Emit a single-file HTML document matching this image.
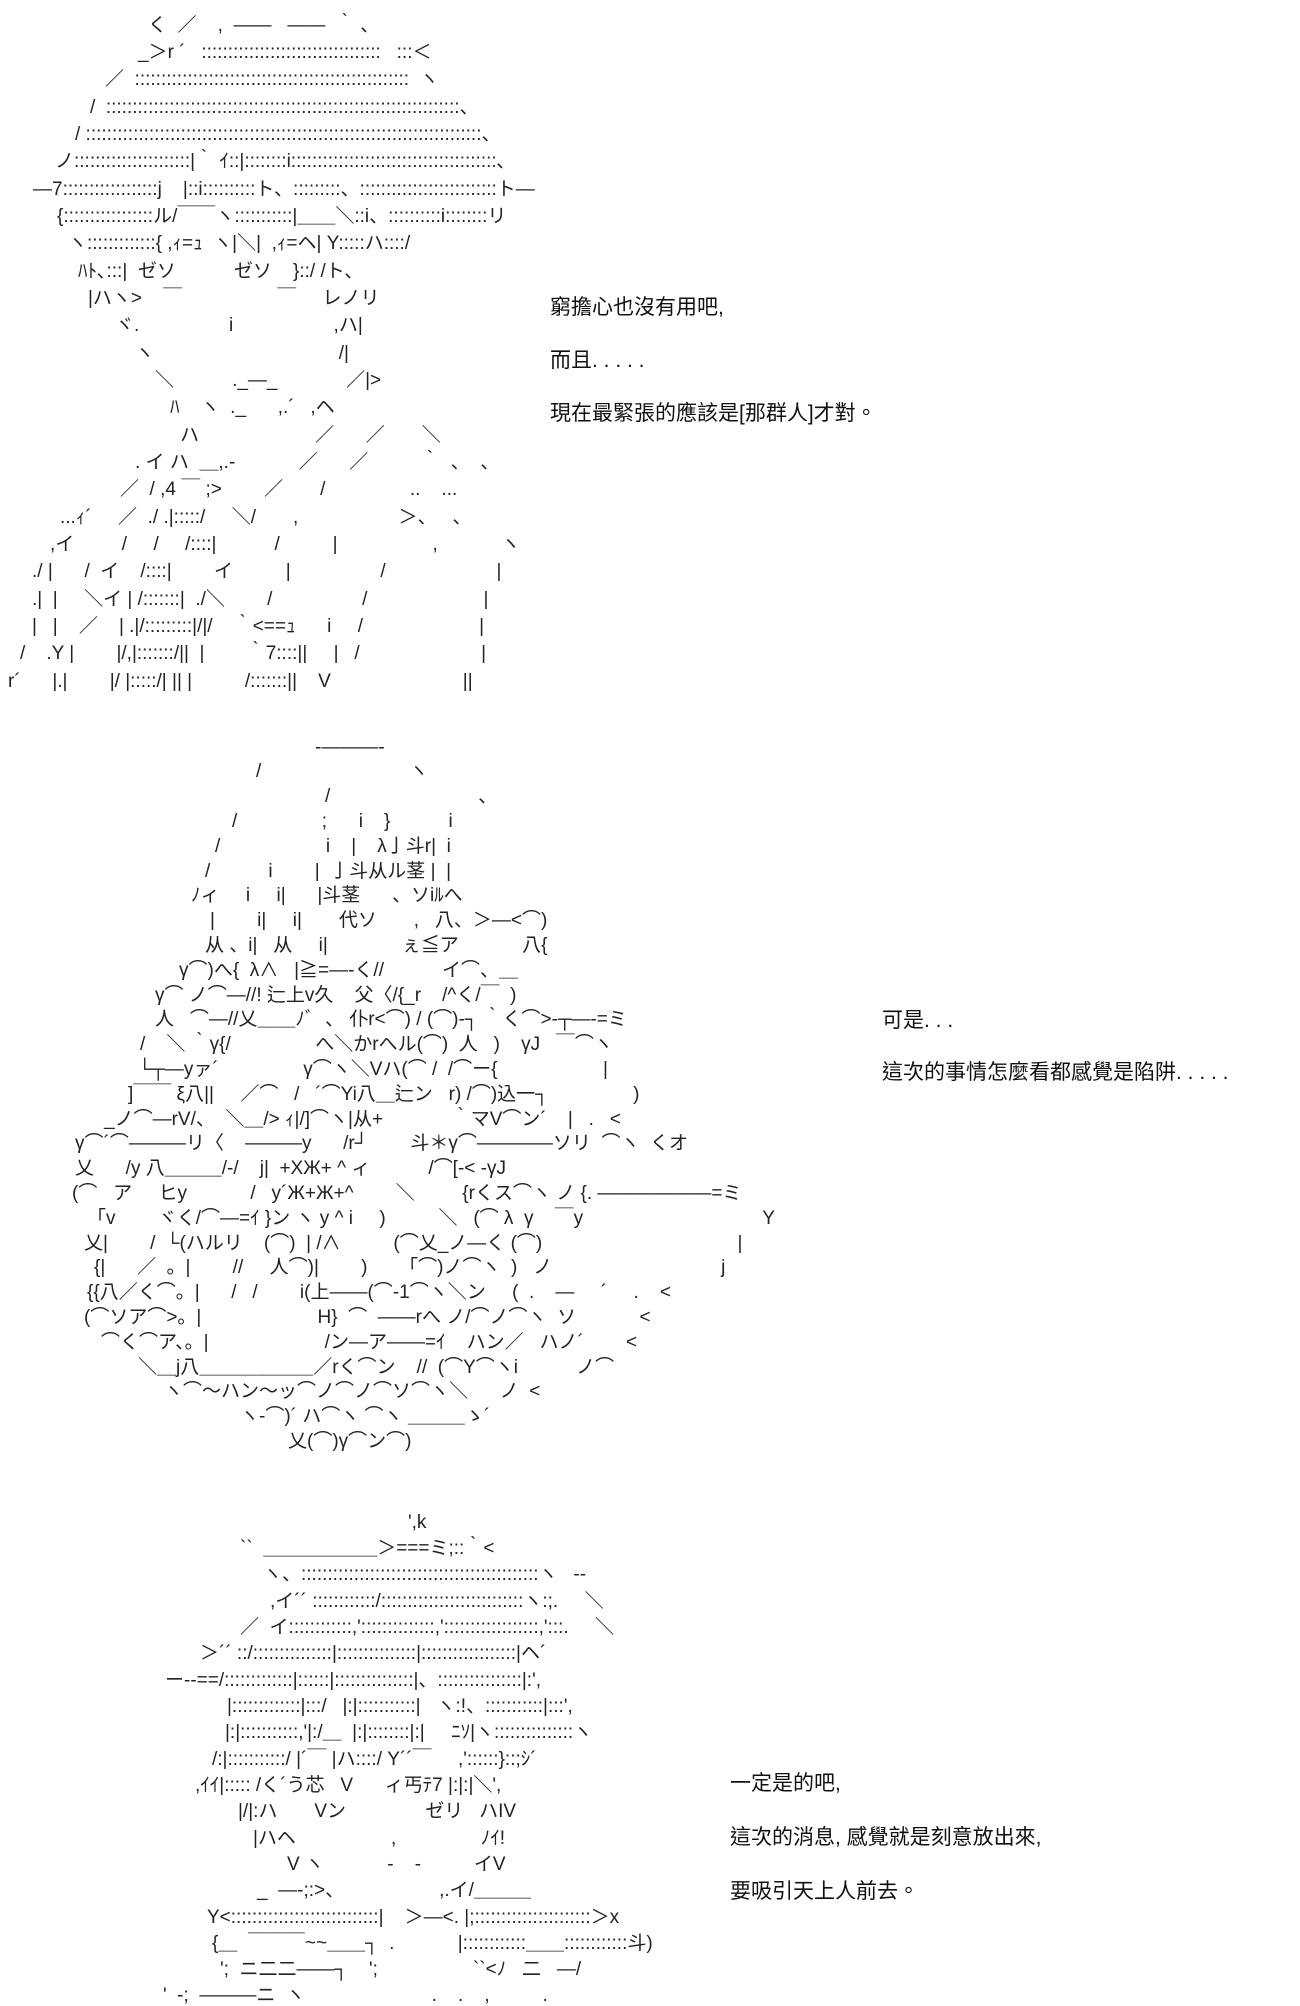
<!DOCTYPE html>
<html><head><meta charset="utf-8">
<style>
html,body{margin:0;padding:0;background:#fff;}
body{width:1300px;height:2000px;position:relative;overflow:hidden;}
.a{position:absolute;white-space:pre;font-family:"Liberation Sans","Noto Sans CJK JP",sans-serif;font-size:19px;line-height:20px;color:#222;}
.t{position:absolute;white-space:pre;font-family:"Liberation Sans","Noto Sans CJK TC",sans-serif;font-size:21px;line-height:24px;color:#111;}
</style></head><body>

<!-- Art 1 -->
<div class="a" style="left:148px;top:16px">く  ／    ,  ――   ――  ｀ 、</div>
<div class="a" style="left:138px;top:43px">_＞r ´   ::::::::::::::::::::::::::::::::::   :::＜</div>
<div class="a" style="left:105px;top:70px">／  ::::::::::::::::::::::::::::::::::::::::::::::::::::  ヽ</div>
<div class="a" style="left:90px;top:98px">/  :::::::::::::::::::::::::::::::::::::::::::::::::::::::::::::::::::、</div>
<div class="a" style="left:75px;top:125px">/ :::::::::::::::::::::::::::::::::::::::::::::::::::::::::::::::::::::::::::、</div>
<div class="a" style="left:55px;top:152px">ノ::::::::::::::::::::::|｀ ｲ::|::::::::i:::::::::::::::::::::::::::::::::::::::､</div>
<div class="a" style="left:33px;top:180px">―7::::::::::::::::::j    |::i::::::::::ト、:::::::::、::::::::::::::::::::::::::ト―</div>
<div class="a" style="left:57px;top:207px">{:::::::::::::::::ル/￣￣ヽ:::::::::::|＿＿＼::i、::::::::::i::::::::リ</div>
<div class="a" style="left:68px;top:234px">ヽ:::::::::::::{ ,ｨ=ｭ  ヽ|＼|  ,ｨ=ヘ| Y:::::ハ::::/</div>
<div class="a" style="left:78px;top:262px">ﾊﾄ､:::|  ゼソ           ゼソ    }::/ /ト､</div>
<div class="a" style="left:88px;top:289px">|ハヽ>    ￣                  ￣     レノリ</div>
<div class="a" style="left:115px;top:316px">ヾ.                 i                   ,ハ|</div>
<div class="a" style="left:135px;top:344px">ヽ                                   /|</div>
<div class="a" style="left:155px;top:371px">＼           ._―_             ／|></div>
<div class="a" style="left:170px;top:398px">ﾊ    ヽ  ._      ,.´   ,ヘ</div>
<div class="a" style="left:180px;top:426px">ハ                      ／      ／       ＼</div>
<div class="a" style="left:135px;top:453px">. イ ハ  ＿,.‐            ／      ／          ｀  、  、</div>
<div class="a" style="left:120px;top:480px">／  / ,4 ￣ ;>        ／       /                ..    ...</div>
<div class="a" style="left:60px;top:508px">...ｨ´     ／  ./ .|:::::/     ＼/       ,                   ＞、   、</div>
<div class="a" style="left:50px;top:535px">,イ         /     /     /::::|           /          |                  ,            ヽ</div>
<div class="a" style="left:32px;top:562px">./ |      /  イ    /::::|        イ          |                 /                     |</div>
<div class="a" style="left:32px;top:590px">.|  |     ＼イ | /:::::::|  ./＼        /                 /                      |</div>
<div class="a" style="left:32px;top:617px">|   |    ／    | .|/:::::::::|/|/    ｀<==ｭ      i     /                      |</div>
<div class="a" style="left:20px;top:644px">/    .Y |        |/,|:::::::/||  |        ｀7::::||     |   /                       |</div>
<div class="a" style="left:8px;top:672px">r´      |.|        |/ |:::::/| || |          /:::::::||    V                         ||</div>

<div class="t" style="left:550px;top:296px">窮擔心也沒有用吧,</div>
<div class="t" style="left:550px;top:349px">而且. . . . .</div>
<div class="t" style="left:550px;top:402px">現在最緊張的應該是[那群人]才對。</div>

<!-- Art 2 -->
<div class="a" style="left:315px;top:738px">-―――-</div>
<div class="a" style="left:256px;top:762px">/                            ヽ</div>
<div class="a" style="left:325px;top:787px">/                            、</div>
<div class="a" style="left:232px;top:812px">/                ;      i    }           i</div>
<div class="a" style="left:215px;top:837px">/                    i    |    λ亅斗r|  i</div>
<div class="a" style="left:205px;top:862px">/           i        |  亅斗从ル茎 |  |</div>
<div class="a" style="left:191px;top:886px">ﾉィ     i     i|      |斗茎      、ソiﾙへ</div>
<div class="a" style="left:210px;top:911px">|        i|     i|       代ソ       ,   八、＞―<⌒)</div>
<div class="a" style="left:205px;top:936px">从 、i|   从     i|              ぇ≦ア            八{</div>
<div class="a" style="left:179px;top:961px">γ⌒)へ{  λ∧   |≧=―-く//           イ⌒、＿</div>
<div class="a" style="left:155px;top:986px">γ⌒ ノ⌒―//! 辷上v久    父〈/{_r    /^く/￣  )</div>
<div class="a" style="left:155px;top:1010px">人   ⌒―//乂＿＿ﾉﾞ  、 仆r<⌒) / (⌒)-┐ ｀く⌒>-┬―-=ミ</div>
<div class="a" style="left:140px;top:1035px">/    ＼ ｀γ{/                へ＼かrへル(⌒)  人   )    γJ   ￣⌒ヽ</div>
<div class="a" style="left:138px;top:1060px">└┬―yァ´                γ⌒ヽ＼Vハ(⌒ /  /⌒ー{                    |</div>
<div class="a" style="left:128px;top:1085px">]￣￣ ξ八||     ／⌒   /   ´⌒Yi八＿辷ン   r) /⌒)込一┐                )</div>
<div class="a" style="left:104px;top:1110px">_ノ⌒―rV/、  ＼＿/> ｨ|/]⌒ヽ|从+             ｀マV⌒ン´    |   .   <</div>
<div class="a" style="left:75px;top:1134px">γ⌒´⌒―――リ〈    ―――y      /r┘        斗＊γ⌒――――ソリ  ⌒ヽ  くオ</div>
<div class="a" style="left:75px;top:1159px">乂      /y 八＿＿＿/‐/    j|  +XЖ+ ^ ィ           /⌒[‐< ‐γJ</div>
<div class="a" style="left:72px;top:1184px">(⌒   ア     ヒy            /   y´Ж+Ж+^        ＼         {rくス⌒ヽ ノ {. ――――――=ミ</div>
<div class="a" style="left:87px;top:1209px">「v        ヾく/⌒―=ｲ }ン ヽ y ^ i     )          ＼   (⌒ λ  γ    ￣y                                  Y</div>
<div class="a" style="left:84px;top:1234px">乂|        /  └(ハルリ    (⌒)  | /∧          (⌒乂_ノ―く (⌒)                                     |</div>
<div class="a" style="left:94px;top:1258px">{|      ／  。|        //     人⌒)|        )      「⌒)ノ⌒ヽ  )   ノ                                j</div>
<div class="a" style="left:87px;top:1283px">{{八／く⌒。|      /   /        i(上――(⌒‐1⌒ヽ＼ン     (  .    ―     ´     .    <</div>
<div class="a" style="left:84px;top:1308px">(⌒ソア⌒>。|                      H}  ⌒  ――rへ ノ/⌒ノ⌒ヽ  ソ            <</div>
<div class="a" style="left:101px;top:1333px">⌒く⌒ア、。|                      /ン―ア――=ｲ    ハン／   ハノ´        <</div>
<div class="a" style="left:138px;top:1358px">＼＿j八＿＿＿＿＿＿／rく⌒ン    //  (⌒Y⌒ヽi           ノ⌒</div>
<div class="a" style="left:164px;top:1382px">ヽ⌒～ハン～ッ⌒ノ⌒ノ⌒ソ⌒ヽ＼      ノ  <</div>
<div class="a" style="left:240px;top:1407px">ヽ-⌒)´ ハ⌒ヽ ⌒ヽ ＿＿＿ゝ´</div>
<div class="a" style="left:288px;top:1432px">乂(⌒)γ⌒ン⌒)</div>

<div class="t" style="left:882px;top:1009px">可是. . .</div>
<div class="t" style="left:882px;top:1061px">這次的事情怎麼看都感覺是陷阱. . . . .</div>

<!-- Art 3 -->
<div class="a" style="left:408px;top:1513px">',k</div>
<div class="a" style="left:240px;top:1539px">``  ＿＿＿＿＿＿＞===ミ;::｀<</div>
<div class="a" style="left:263px;top:1565px">ヽ、:::::::::::::::::::::::::::::::::::::::::::::ヽ   ‐-</div>
<div class="a" style="left:270px;top:1592px">,イ´´ ::::::::::::/:::::::::::::::::::::::::::ヽ:;.     ＼</div>
<div class="a" style="left:240px;top:1618px">／  イ::::::::::::,'::::::::::::::,'::::::::::::::::::,':::.     ＼</div>
<div class="a" style="left:200px;top:1644px">＞´´ ::/:::::::::::::::|:::::::::::::::|::::::::::::::::::|ヘ´</div>
<div class="a" style="left:165px;top:1671px">ー‐-==/:::::::::::::|::::::|:::::::::::::::|、::::::::::::::::|:',</div>
<div class="a" style="left:227px;top:1697px">|:::::::::::::|:::/   |:|:::::::::::|   ヽ:!、:::::::::::|:::',</div>
<div class="a" style="left:225px;top:1723px">|:|:::::::::::,'|:/＿  |:|::::::::|:|     ﾆｿ|ヽ:::::::::::::::ヽ</div>
<div class="a" style="left:212px;top:1750px">/:|:::::::::::/ |´￣ |ハ::::/ Y´´￣     ,'::::::}::;ｼ´</div>
<div class="a" style="left:195px;top:1776px">,ｲｲ|::::: /く´う芯   V      ィ丐ﾃ7 |:|:|＼',</div>
<div class="a" style="left:238px;top:1802px">|/|:ハ       Vン               ゼリ   ハIV</div>
<div class="a" style="left:253px;top:1829px">|ハヘ                  ,                ﾉｲ!</div>
<div class="a" style="left:287px;top:1855px">V ヽ            ‐    ‐          イV</div>
<div class="a" style="left:257px;top:1881px">_  ―‐;:>、                  ,.イ/＿＿＿</div>
<div class="a" style="left:207px;top:1908px">Y<::::::::::::::::::::::::::::|    ＞―<. |;::::::::::::::::::::::＞x</div>
<div class="a" style="left:212px;top:1934px">{＿  ￣￣￣~~＿＿┐  .            |::::::::::::＿＿::::::::::::斗)</div>
<div class="a" style="left:220px;top:1960px">';  ニ二二――┐    ';                  ``<ﾉ   二   ―/</div>
<div class="a" style="left:163px;top:1986px">'  -;  ―――ニ  ヽ                        .    .    ,          .</div>

<div class="t" style="left:730px;top:1772px">一定是的吧,</div>
<div class="t" style="left:730px;top:1826px">這次的消息, 感覺就是刻意放出來,</div>
<div class="t" style="left:730px;top:1880px">要吸引天上人前去。</div>

</body></html>
